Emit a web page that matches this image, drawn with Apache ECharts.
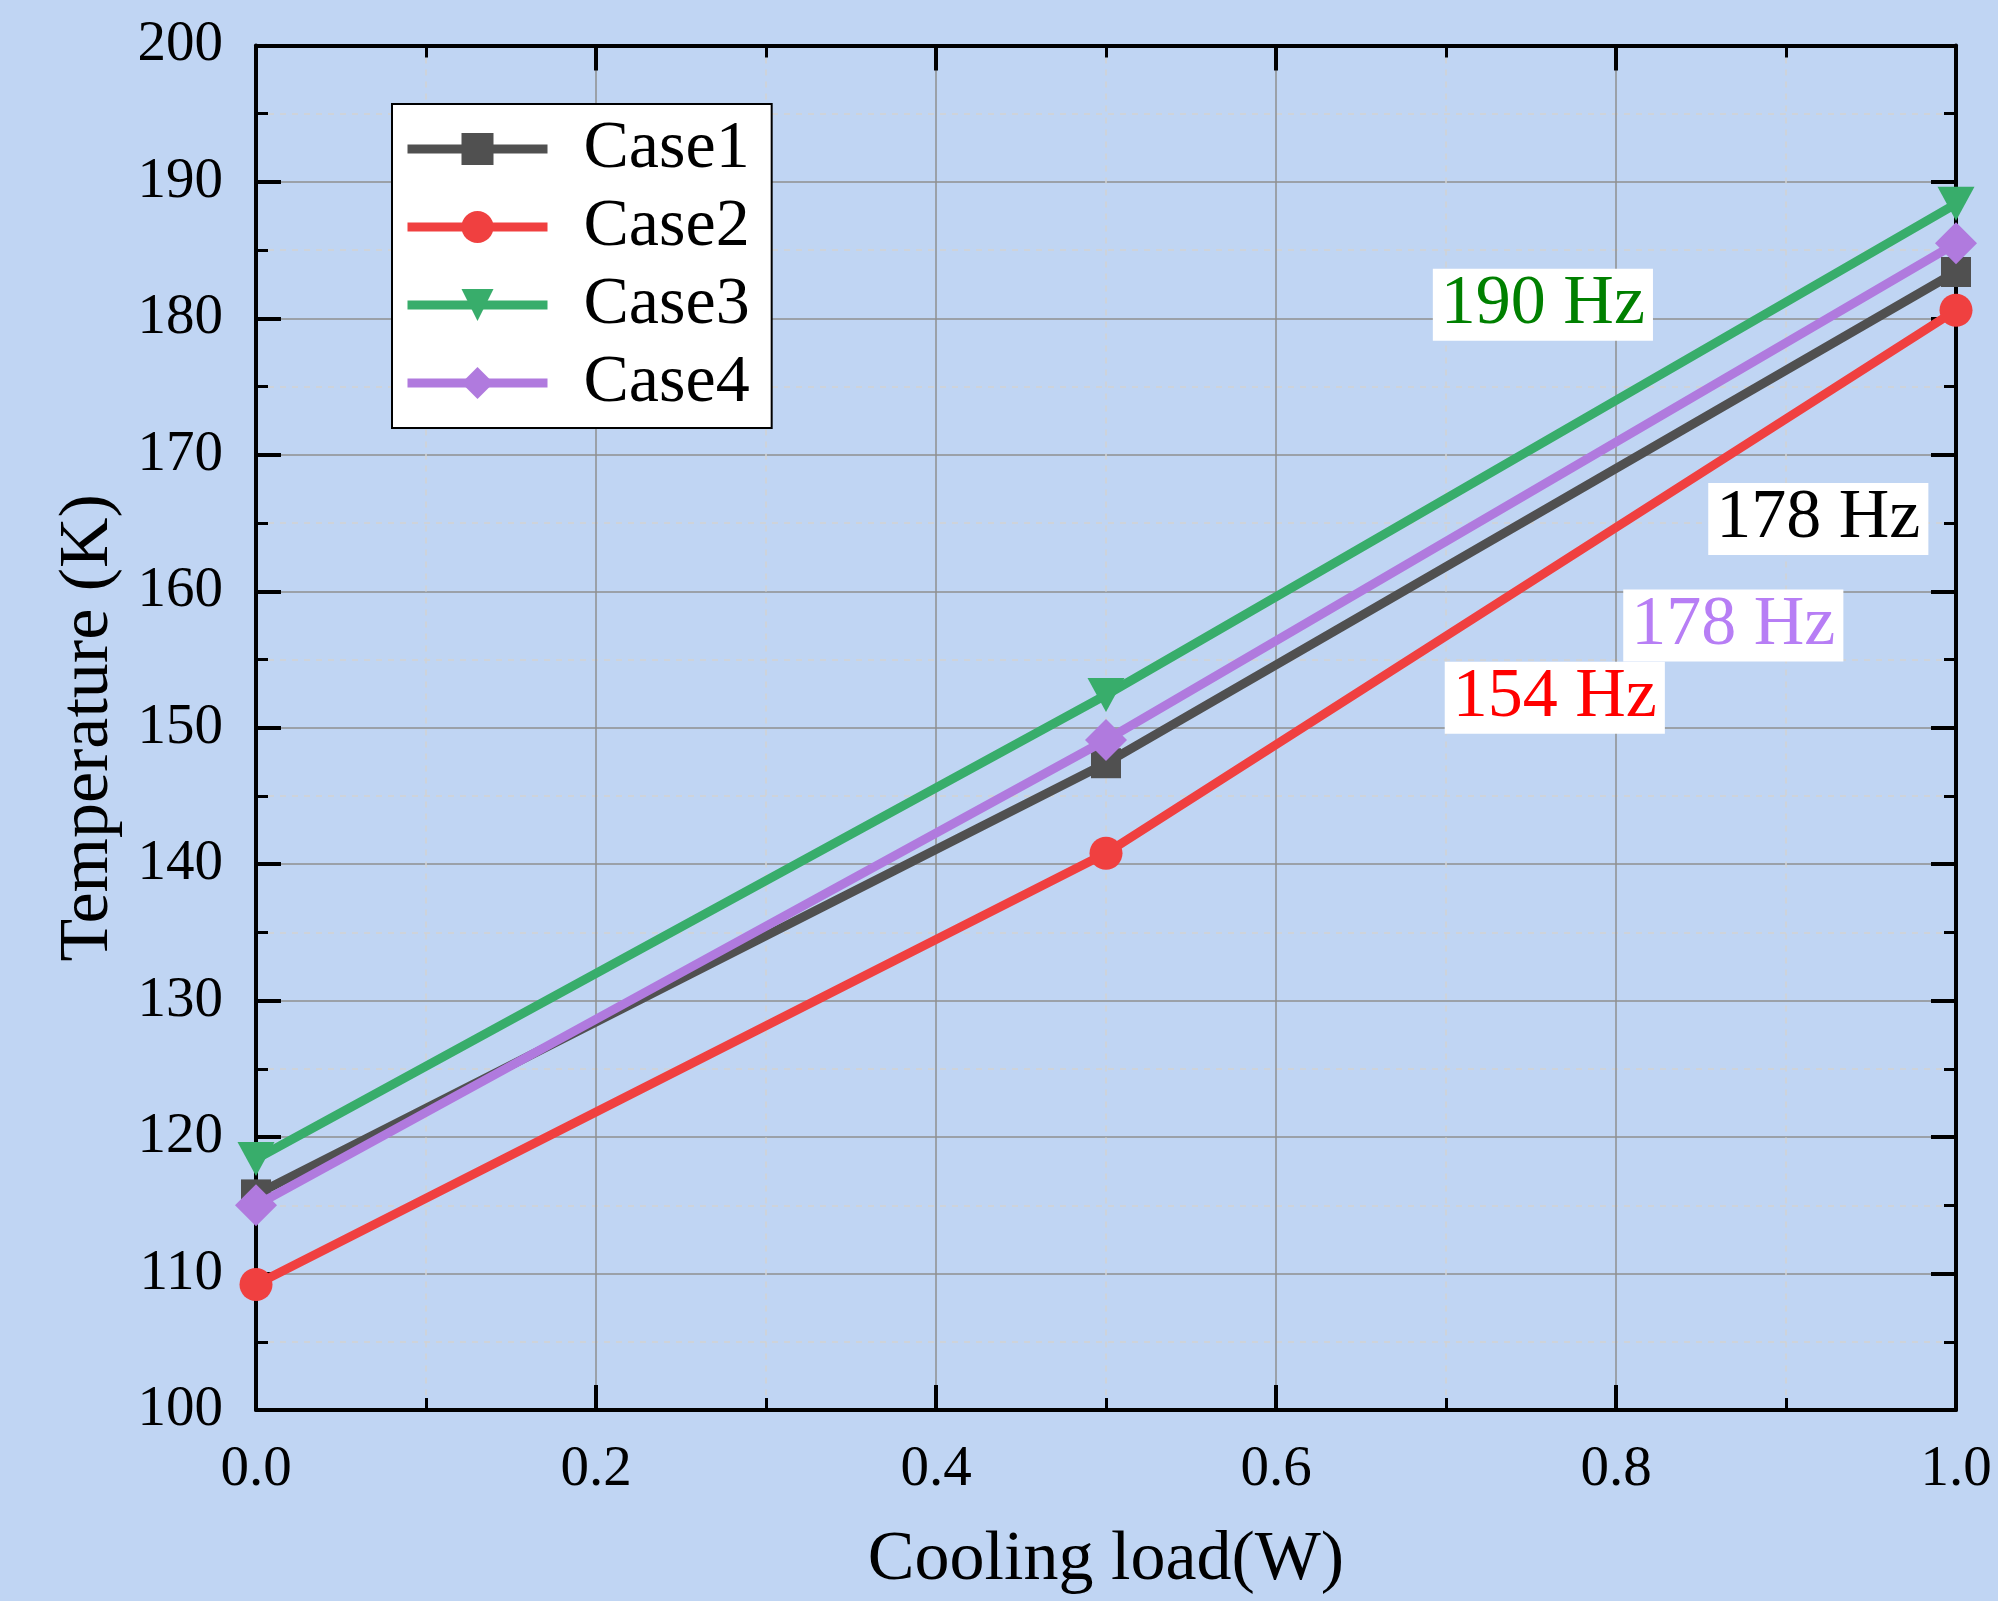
<!DOCTYPE html>
<html>
<head>
<meta charset="utf-8">
<script src="https://cdn.jsdelivr.net/npm/echarts@6/dist/echarts.min.js"></script>
<style>
html,body{margin:0;padding:0;background:#c0d5f3;}
#chart{width:1998px;height:1601px;}
</style>
</head>
<body>
<div id="chart"></div>
<script>
// ---- data ----
const coolingLoad = [0.0, 0.5, 1.0];
const case1 = [115.8, 147.4, 183.4];
const case2 = [109.2, 140.8, 180.6];
const case3 = [118.4, 152.4, 188.4];
const case4 = [115.0, 149.1, 185.5];
const seriesNames = ['Case1', 'Case2', 'Case3', 'Case4'];
const xTicks = [0.0, 0.2, 0.4, 0.6, 0.8, 1.0];
const yTicks = [100, 110, 120, 130, 140, 150, 160, 170, 180, 190, 200];
const annotationTexts = ['190 Hz', '178 Hz', '178 Hz', '154 Hz'];

// ---- styling / layout ----
const FONT = 'Liberation Serif';
const colors = ['#505050', '#f04040', '#38ad6b', '#b07ade'];
const symbols = ['rect', 'circle', 'triangle', 'diamond'];
const symbolSizes = [30, 33, [37, 34], 42];
const symbolRotates = [0, 0, 180, 0];
const annColors = ['#008000', '#000000', '#b77ef5', '#ff0000'];
const annSeries = [2, 0, 3, 1];
const annAnchors = [[0.757, 181.0], [0.919, 165.3], [0.869, 157.5], [0.764, 152.2]];

const chart = echarts.init(document.getElementById('chart'), null, {renderer: 'canvas'});

const allData = [case1, case2, case3, case4];

const series = allData.map((vals, i) => {
  const s = {
    name: seriesNames[i],
    type: 'line',
    data: coolingLoad.map((x, j) => [x, vals[j]]),
    symbol: symbols[i],
    symbolSize: symbolSizes[i],
    symbolRotate: symbolRotates[i],
    showAllSymbol: true,
    lineStyle: {color: colors[i], width: 9},
    itemStyle: {color: colors[i]},
    emphasis: {disabled: true},
    z: 3 + i
  };
  const mp = [];
  annSeries.forEach((si, k) => {
    if (si === i) {
      mp.push({
        coord: annAnchors[k],
        symbol: 'rect', symbolSize: 1,
        itemStyle: {color: 'rgba(0,0,0,0)'},
        label: {
          show: true, position: 'inside',
          formatter: annotationTexts[k],
          color: annColors[k],
          fontFamily: FONT, fontSize: 70,
          backgroundColor: '#ffffff',
          padding: [2, 8, 0, 8]
        }
      });
    }
  });
  if (mp.length) {
    s.markPoint = {data: mp, silent: true, animation: false};
  }
  return s;
});

const axisLineStyle = {color: '#000', width: 4};

const option = {
  backgroundColor: '#c0d5f3',
  animation: false,
  grid: {left: 256, right: 42, top: 45.5, bottom: 185.5, containLabel: false},
  legend: {
    data: seriesNames,
    orient: 'vertical',
    left: 392, top: 104,
    backgroundColor: '#ffffff',
    borderColor: '#000', borderWidth: 2,
    padding: [11, 22, 11, 11],
    itemWidth: 140, itemHeight: 40,
    itemGap: 10,
    lineStyle: {width: 9},
    textStyle: {fontFamily: FONT, fontSize: 68, color: '#000', padding: [0, 0, 0, 31]},
    selectedMode: false
  },
  xAxis: [{
    type: 'value',
    min: xTicks[0], max: xTicks[xTicks.length - 1], interval: 0.2,
    name: 'Cooling load(W)',
    nameLocation: 'middle', nameGap: 116,
    nameTextStyle: {fontFamily: FONT, fontSize: 70, color: '#000'},
    axisLine: {show: true, onZero: false, lineStyle: axisLineStyle},
    axisTick: {show: true, inside: true, length: 25, lineStyle: {color: '#000', width: 4}},
    minorTick: {show: true, splitNumber: 2, length: 12, lineStyle: {color: '#000', width: 3}},
    axisLabel: {fontFamily: FONT, fontSize: 57, color: '#000', margin: 32,
      formatter: v => v.toFixed(1)},
    splitLine: {show: true, lineStyle: {color: '#8f8f8f', width: 1.5}},
    minorSplitLine: {show: true, lineStyle: {color: '#d2d2d2', width: 1.5, type: [6, 6]}}
  }, {
    type: 'value', position: 'top',
    min: xTicks[0], max: xTicks[xTicks.length - 1], interval: 0.2,
    axisLine: {show: true, onZero: false, lineStyle: axisLineStyle},
    axisTick: {show: true, inside: true, length: 25, lineStyle: {color: '#000', width: 4}},
    minorTick: {show: true, splitNumber: 2, length: 12, lineStyle: {color: '#000', width: 3}},
    axisLabel: {show: false},
    splitLine: {show: false}
  }],
  yAxis: [{
    type: 'value',
    min: yTicks[0], max: yTicks[yTicks.length - 1], interval: 10,
    name: 'Temperature (K)',
    nameLocation: 'middle', nameGap: 132,
    nameTextStyle: {fontFamily: FONT, fontSize: 70, color: '#000'},
    axisLine: {show: true, onZero: false, lineStyle: axisLineStyle},
    axisTick: {show: true, inside: true, length: 25, lineStyle: {color: '#000', width: 4}},
    minorTick: {show: true, splitNumber: 2, length: 12, lineStyle: {color: '#000', width: 3}},
    axisLabel: {fontFamily: FONT, fontSize: 57, color: '#000', margin: 33},
    splitLine: {show: true, lineStyle: {color: '#8f8f8f', width: 1.5}},
    minorSplitLine: {show: true, lineStyle: {color: '#d2d2d2', width: 1.5, type: [6, 6]}}
  }, {
    type: 'value', position: 'right',
    min: yTicks[0], max: yTicks[yTicks.length - 1], interval: 10,
    axisLine: {show: true, onZero: false, lineStyle: axisLineStyle},
    axisTick: {show: true, inside: true, length: 25, lineStyle: {color: '#000', width: 4}},
    minorTick: {show: true, splitNumber: 2, length: 12, lineStyle: {color: '#000', width: 3}},
    axisLabel: {show: false},
    splitLine: {show: false}
  }],
  series: series
};

chart.setOption(option);
</script>
</body>
</html>
